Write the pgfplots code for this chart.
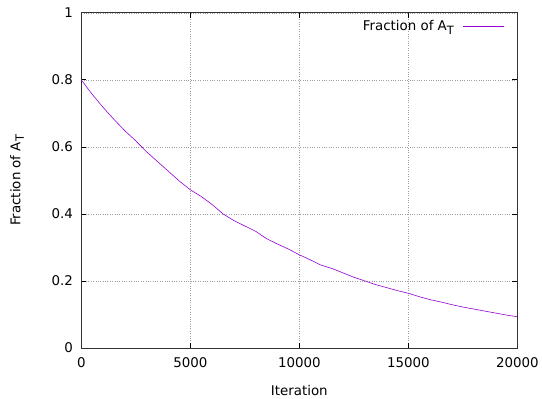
\documentclass[border=0pt]{standalone}
\usepackage{fontspec}
\setmainfont{DejaVu Sans}
\usepackage{pgfplots}
\pgfplotsset{compat=1.18}
\definecolor{gpviolet}{HTML}{9400D3}
\newcommand{\AT}{A\raisebox{-3.5pt}{\fontsize{11.5}{12}\selectfont T}}
\begin{document}
\begin{tikzpicture}[font=\fontsize{13.5}{15}\selectfont]
\begin{axis}[
  name=ax,
  width=440pt, height=338pt, scale only axis,
  xmin=0, xmax=20000, ymin=0, ymax=1,
  xtick={0,5000,10000,15000,20000},
  ytick={0,0.2,0.4,0.6,0.8,1},
  scaled x ticks=false,
  xticklabel style={/pgf/number format/1000 sep={}, yshift=-6pt},
  yticklabel style={xshift=-5pt},
  /pgf/number format/assume math mode=true,
  tick align=inside, major tick length=5pt,
  tick style={black, line width=0.8pt},
  grid=major,
  major grid style={gray!75, dotted, line width=0.7pt},
  axis line style={black!80, line width=0.8pt},
  xlabel={Iteration},
  ylabel={Fraction of \AT},
  xlabel style={yshift=-11pt},
  ylabel style={yshift=21pt},
  legend style={at={(0.982,0.99)}, anchor=north east, fill=none, draw=none},
  legend plot pos=none,
]
\addplot[color=gpviolet, line width=0.6pt] coordinates {
  (0,0.800) (500,0.757) (1000,0.718) (1500,0.682) (2000,0.648)
  (2500,0.618) (3000,0.585) (3500,0.556) (4000,0.527) (4500,0.498)
  (5000,0.472) (5500,0.452) (6000,0.428) (6500,0.400) (7000,0.380)
  (7500,0.364) (8000,0.348) (8500,0.326) (9000,0.310) (9500,0.295)
  (10000,0.278) (10500,0.263) (11000,0.247) (11500,0.237) (12000,0.224)
  (12500,0.211) (13000,0.200) (13500,0.189) (14000,0.180) (14500,0.171)
  (15000,0.163) (15500,0.153) (16000,0.144) (16500,0.137) (17000,0.129)
  (17500,0.122) (18000,0.116) (18500,0.110) (19000,0.104) (19500,0.098)
  (20000,0.093)
};
\addlegendentry{Fraction of \AT\hspace{9pt}\textcolor{gpviolet}{\rule[3.5pt]{42pt}{1pt}}}
\end{axis}
\path (ax.south west) ++(-82pt,-50pt) rectangle ([shift={(20pt,13pt)}]ax.north east);
\end{tikzpicture}
\end{document}
